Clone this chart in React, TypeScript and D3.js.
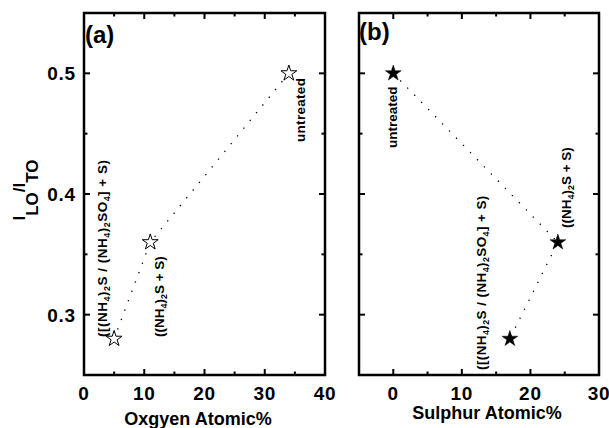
import React from "react";
import * as d3 from "d3";

// ---- data ----
const oxygenX = [5, 11, 34];
const oxygenY = [0.28, 0.36, 0.5];
const sulphurX = [0, 24, 17];
const sulphurY = [0.5, 0.36, 0.28];
const xTicksA = [0, 10, 20, 30, 40];
const xMinorA = [5, 15, 25, 35];
const xTicksB = [0, 10, 20, 30];
const xMinorB = [5, 15, 25];
const yTicks = [0.3, 0.4, 0.5];
const yMinor = [0.35, 0.45];

const FONT = "'Liberation Sans', Arial, Helvetica, sans-serif";

const yScale = d3.scaleLinear().domain([0.25, 0.55]).range([375, 13]);
const xA = d3.scaleLinear().domain([0, 40]).range([84, 325]);
const xB = d3.scaleLinear().domain([-5, 30]).range([359, 599]);

const starPath = d3.symbol().type(d3.symbolStar).size(78)() as string;

type Seg = { t: string; sub?: boolean };

function RotLabel({
  x,
  y,
  segs,
  size = 13.5,
  ls = 0,
}: {
  x: number;
  y: number;
  segs: Seg[];
  size?: number;
  ls?: number;
}) {
  let prevSub = false;
  return (
    <text
      transform={`translate(${x},${y}) rotate(-90)`}
      fontFamily={FONT}
      fontWeight="bold"
      fontSize={size}
      letterSpacing={ls}
      fill="#000"
    >
      {segs.map((s, i) => {
        let dy = 0;
        if (s.sub && !prevSub) dy = 3;
        if (!s.sub && prevSub) dy = -3;
        prevSub = !!s.sub;
        return (
          <tspan key={i} dy={dy} fontSize={s.sub ? size * 0.66 : size}>
            {s.t}
          </tspan>
        );
      })}
    </text>
  );
}

const bigLabel: Seg[] = [
  { t: "([(NH" },
  { t: "4", sub: true },
  { t: ")" },
  { t: "2", sub: true },
  { t: "S / (NH" },
  { t: "4", sub: true },
  { t: ")" },
  { t: "2", sub: true },
  { t: "SO" },
  { t: "4", sub: true },
  { t: "] + S)" },
];
const smallLabel: Seg[] = [
  { t: "((NH" },
  { t: "4", sub: true },
  { t: ")" },
  { t: "2", sub: true },
  { t: "S + S)" },
];
const untreated: Seg[] = [{ t: "untreated" }];

function Panel({
  x,
  xs,
  ys,
  xTicks,
  xMinor,
  filled,
  showYLabels,
}: {
  x: d3.ScaleLinear<number, number>;
  xs: number[];
  ys: number[];
  xTicks: number[];
  xMinor: number[];
  filled: boolean;
  showYLabels: boolean;
}) {
  const [x0, x1] = x.range();
  const [yb, yt] = yScale.range();
  const line = d3
    .line<number>()
    .x((_, i) => x(xs[i]))
    .y((v) => yScale(v));
  const maj = 6;
  const min = 3.5;
  return (
    <g>
      <path d={line(ys) as string} fill="none" stroke="#000" strokeWidth={1.3} strokeDasharray="1.3 8.7" />
      {xTicks.map((t) => (
        <g key={"xt" + t}>
          <line x1={x(t)} x2={x(t)} y1={yb} y2={yb - maj} stroke="#000" strokeWidth={2} />
          <line x1={x(t)} x2={x(t)} y1={yt} y2={yt + maj} stroke="#000" strokeWidth={2} />
          <text
            x={x(t)}
            y={400}
            textAnchor="middle"
            fontFamily={FONT}
            fontWeight="bold"
            fontSize={19}
            letterSpacing={0.8}
          >
            {t}
          </text>
        </g>
      ))}
      {xMinor.map((t) => (
        <g key={"xm" + t}>
          <line x1={x(t)} x2={x(t)} y1={yb} y2={yb - min} stroke="#000" strokeWidth={2} />
          <line x1={x(t)} x2={x(t)} y1={yt} y2={yt + min} stroke="#000" strokeWidth={2} />
        </g>
      ))}
      {yTicks.map((t) => (
        <g key={"yt" + t}>
          <line x1={x0} x2={x0 + maj} y1={yScale(t)} y2={yScale(t)} stroke="#000" strokeWidth={2} />
          <line x1={x1} x2={x1 - maj} y1={yScale(t)} y2={yScale(t)} stroke="#000" strokeWidth={2} />
          {showYLabels && (
            <text
              x={x0 - 8}
              y={yScale(t) + 7}
              textAnchor="end"
              fontFamily={FONT}
              fontWeight="bold"
              fontSize={19}
              letterSpacing={0.8}
            >
              {t.toFixed(1)}
            </text>
          )}
        </g>
      ))}
      {yMinor.map((t) => (
        <g key={"ym" + t}>
          <line x1={x0} x2={x0 + min} y1={yScale(t)} y2={yScale(t)} stroke="#000" strokeWidth={2} />
          <line x1={x1} x2={x1 - min} y1={yScale(t)} y2={yScale(t)} stroke="#000" strokeWidth={2} />
        </g>
      ))}
      <rect x={x0} y={yt} width={x1 - x0} height={yb - yt} fill="none" stroke="#000" strokeWidth={2.5} />
      {xs.map((v, i) => (
        <path
          key={"s" + i}
          d={starPath}
          transform={`translate(${x(v)},${yScale(ys[i])})`}
          fill={filled ? "#000" : "#fff"}
          stroke="#000"
          strokeWidth={filled ? 0.5 : 1}
        />
      ))}
    </g>
  );
}

export default function App() {
  return (
    <svg
      width={609}
      height={428}
      viewBox="0 0 609 428"
      style={{ position: "absolute", left: 0, top: 0, background: "#fff" }}
    >
      <rect x={0} y={0} width={609} height={428} fill="#fff" />
      <Panel x={xA} xs={oxygenX} ys={oxygenY} xTicks={xTicksA} xMinor={xMinorA} filled={false} showYLabels={true} />
      <Panel x={xB} xs={sulphurX} ys={sulphurY} xTicks={xTicksB} xMinor={xMinorB} filled={true} showYLabels={false} />

      {/* panel labels */}
      <text x={85} y={43} fontFamily={FONT} fontWeight="bold" fontSize={24}>
        (a)
      </text>
      <text x={359} y={40} fontFamily={FONT} fontWeight="bold" fontSize={24}>
        (b)
      </text>

      {/* annotations */}
      <RotLabel x={305} y={142} segs={untreated} ls={0.3} />
      <RotLabel x={164} y={337} segs={smallLabel} />
      <RotLabel x={107} y={337} segs={bigLabel} ls={0.5} />
      <RotLabel x={397} y={148} segs={untreated} />
      <RotLabel x={571} y={228} segs={smallLabel} />
      <RotLabel x={486} y={370} segs={bigLabel} ls={0.4} />

      {/* y axis title */}
      <text
        transform="translate(25,190) rotate(-90)"
        textAnchor="middle"
        fontFamily={FONT}
        fontWeight="bold"
        fontSize={17}
      >
        <tspan>I</tspan>
        <tspan dy={13}>LO</tspan>
        <tspan dy={-13}>/I</tspan>
        <tspan dy={13}>TO</tspan>
      </text>

      {/* x axis titles */}
      <text x={198} y={425} textAnchor="middle" fontFamily={FONT} fontWeight="bold" fontSize={18}>
        Oxgyen Atomic%
      </text>
      <text x={487} y={419} textAnchor="middle" fontFamily={FONT} fontWeight="bold" fontSize={18}>
        Sulphur Atomic%
      </text>
    </svg>
  );
}
